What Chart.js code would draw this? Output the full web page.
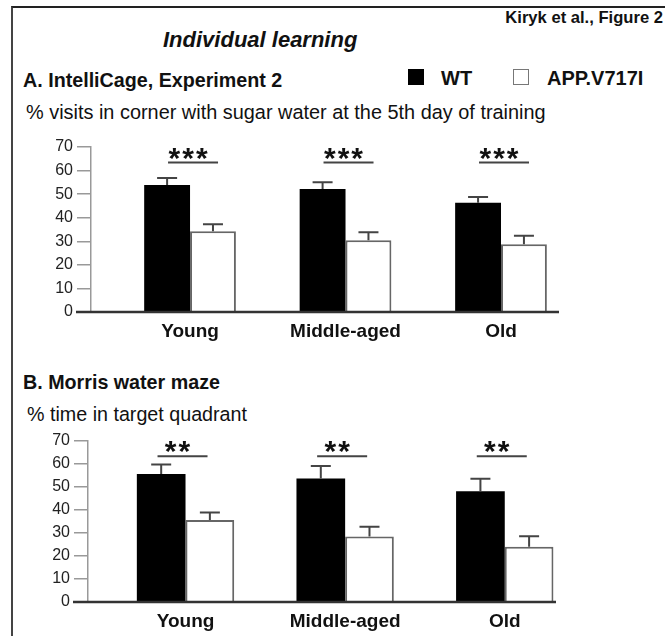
<!DOCTYPE html>
<html>
<head>
<meta charset="utf-8">
<script src="https://cdn.jsdelivr.net/npm/chart.js@4.4.1/dist/chart.umd.min.js"></script>
<style>
  html, body { margin: 0; padding: 0; background: #fff; }
  body { width: 665px; height: 636px; position: relative; overflow: hidden; font-family: 'Liberation Sans', Arial, sans-serif; color: #111; }
  .t { position: absolute; white-space: nowrap; line-height: 1; }
  #frame { position: absolute; left: 11px; top: 6px; right: -5px; bottom: -5px; border-top: 2px solid #222; border-left: 2px solid #444; }
  .cw { position: absolute; left: 0; width: 665px; }
  .sw { position: absolute; width: 16px; height: 16px; }
</style>
</head>
<body>
<div id="frame"></div>
<div class="t" id="fig" style="right:2px; top:10px; font-size:16.6px; font-weight:bold;"></div>
<div class="t" id="main" style="left:163px; top:29px; font-size:22px; font-weight:bold; font-style:italic;"></div>
<div class="t" id="titleA" style="left:23px; top:71px; font-size:19.7px; font-weight:bold;"></div>
<div id="legend"></div>
<div class="t" id="subA" style="left:26px; top:103px; font-size:19.9px;"></div>
<div class="cw" style="top:130px; height:215px;"><canvas id="chartA"></canvas></div>
<div class="t" id="titleB" style="left:23px; top:373px; font-size:19.7px; font-weight:bold;"></div>
<div class="t" id="subB" style="left:27px; top:405px; font-size:19.7px;"></div>
<div class="cw" style="top:425px; height:211px;"><canvas id="chartB"></canvas></div>
<script>
// ---------- data ----------
const figureTag = 'Kiryk et al., Figure 2';
const mainTitle = 'Individual learning';
const seriesNames = ['WT', 'APP.V717I'];
const categories = ['Young', 'Middle-aged', 'Old'];
const yTicks = [0, 10, 20, 30, 40, 50, 60, 70];

const titleA = 'A. IntelliCage, Experiment 2';
const subtitleA = '% visits in corner with sugar water at the 5th day of training';
const wtA = [53.9, 52.2, 46.3];
const wtErrA = [2.9, 2.8, 2.5];
const appA = [34.3, 30.4, 28.7];
const appErrA = [2.9, 3.4, 3.6];
const sigA = ['***', '***', '***'];

const titleB = 'B. Morris water maze';
const subtitleB = '% time in target quadrant';
const wtB = [55.7, 53.7, 48.2];
const wtErrB = [4.1, 5.4, 5.4];
const appB = [35.7, 28.5, 24.0];
const appErrB = [3.2, 4.2, 4.6];
const sigB = ['**', '**', '**'];

// ---------- text ----------
document.getElementById('fig').textContent = figureTag;
document.getElementById('main').textContent = mainTitle;
document.getElementById('titleA').textContent = titleA;
document.getElementById('subA').textContent = subtitleA;
document.getElementById('titleB').textContent = titleB;
document.getElementById('subB').textContent = subtitleB;

const legendStyles = [
  { sq: 'left:408px; top:69px; background:#000;', tx: 'left:441px; top:68px;' },
  { sq: 'left:513px; top:69px; background:#fff; border:1.5px solid #777; width:14px; height:14px;', tx: 'left:547px; top:68px;' }
];
const lg = document.getElementById('legend');
seriesNames.forEach((n, i) => {
  const s = document.createElement('div'); s.className = 'sw'; s.style.cssText = legendStyles[i].sq; lg.appendChild(s);
  const t = document.createElement('div'); t.className = 't'; t.style.cssText = legendStyles[i].tx + 'font-size:20px; font-weight:bold;'; t.textContent = n; lg.appendChild(t);
});

// ---------- plugin: axis baseline, error bars, significance ----------
const decor = {
  id: 'decor',
  afterDatasetsDraw(chart, args, opts) {
    const ctx = chart.ctx, xs = chart.scales.x, ys = chart.scales.y, ca = chart.chartArea;
    ctx.save();
    // baseline
    ctx.strokeStyle = '#333'; ctx.lineWidth = 2.5;
    ctx.beginPath(); ctx.moveTo(ca.left - 15, ys.getPixelForValue(0)); ctx.lineTo(ca.right, ys.getPixelForValue(0)); ctx.stroke();
    // error bars
    ctx.strokeStyle = '#444'; ctx.lineWidth = 2;
    opts.errors.forEach((errs, di) => {
      const meta = chart.getDatasetMeta(di);
      meta.data.forEach((bar, j) => {
        const v = chart.data.datasets[di].data[j].y;
        const top = ys.getPixelForValue(v + errs[j]);
        ctx.beginPath();
        ctx.moveTo(bar.x, bar.y); ctx.lineTo(bar.x, top);
        ctx.moveTo(bar.x - 10, top); ctx.lineTo(bar.x + 10, top);
        ctx.stroke();
      });
    });
    // significance
    ctx.fillStyle = '#111'; ctx.font = 'bold 30px "Liberation Sans", Arial';
    ctx.textAlign = 'center'; ctx.textBaseline = 'alphabetic';
    if ('letterSpacing' in ctx) ctx.letterSpacing = '2px';
    opts.sig.forEach((s, j) => {
      const cx = xs.getPixelForValue(j) + opts.sigShift;
      const ly = ys.getPixelForValue(opts.sigLine);
      ctx.beginPath(); ctx.moveTo(cx - 25, ly); ctx.lineTo(cx + 25, ly); ctx.stroke();
      ctx.fillText(s, cx - 4, ly + 5);
    });
    ctx.restore();
  }
};

function makeChart(id, wt, wtErr, app, appErr, sig, cfg) {
  const toPts = arr => arr.map((v, i) => ({ x: i, y: v }));
  return new Chart(document.getElementById(id), {
    type: 'bar',
    data: {
      datasets: [
        { label: seriesNames[0], data: toPts(wt), backgroundColor: '#000', borderWidth: 0,
          categoryPercentage: cfg.catPct, barPercentage: 1 },
        { label: seriesNames[1], data: toPts(app), backgroundColor: '#fff', borderColor: '#666', borderWidth: 2,
          categoryPercentage: cfg.catPct, barPercentage: 1 }
      ]
    },
    options: {
      responsive: true, maintainAspectRatio: false, animation: false, events: [],
      layout: { padding: { top: cfg.padTop, right: cfg.padRight, left: 0, bottom: 0 } },
      plugins: { legend: { display: false }, tooltip: { enabled: false },
        decor: { errors: [wtErr, appErr], sig: sig, sigLine: 63.4, sigShift: cfg.sigShift } },
      scales: {
        x: {
          type: 'linear', min: cfg.xMin, max: cfg.xMax, offset: false,
          afterBuildTicks: s => { s.ticks = categories.map((c, i) => ({ value: i })); },
          afterFit: s => { s.height = cfg.xHeight; },
          grid: { display: false, drawTicks: false, offset: false }, border: { display: false },
          ticks: { autoSkip: false, maxRotation: 0, padding: 8, color: '#111',
            font: { family: "'Liberation Sans', Arial", size: 19, weight: 'bold' },
            callback: v => categories[Math.round(v)] }
        },
        y: {
          min: 0, max: 70,
          afterBuildTicks: s => { s.ticks = yTicks.map(v => ({ value: v })); },
          afterFit: s => { s.width = cfg.yWidth; },
          grid: { drawOnChartArea: false, drawTicks: true, tickLength: 14, color: '#999', lineWidth: 1.5 },
          border: { display: true, color: '#999', width: 1.5 },
          ticks: { padding: 4, color: '#222', font: { family: "'Liberation Sans', Arial", size: 16 } }
        }
      }
    },
    plugins: [decor]
  });
}

makeChart('chartA', wtA, wtErrA, appA, appErrA, sigA,
  { catPct: 0.59, padTop: 17, padRight: 106, xMin: -0.637, xMax: 2.373, xHeight: 33, yWidth: 91, sigShift: 3 });
makeChart('chartB', wtB, wtErrB, appB, appErrB, sigB,
  { catPct: 0.61, padTop: 16, padRight: 109, xMin: -0.611, xMax: 2.321, xHeight: 34, yWidth: 88, sigShift: -3 });
</script>
</body>
</html>
